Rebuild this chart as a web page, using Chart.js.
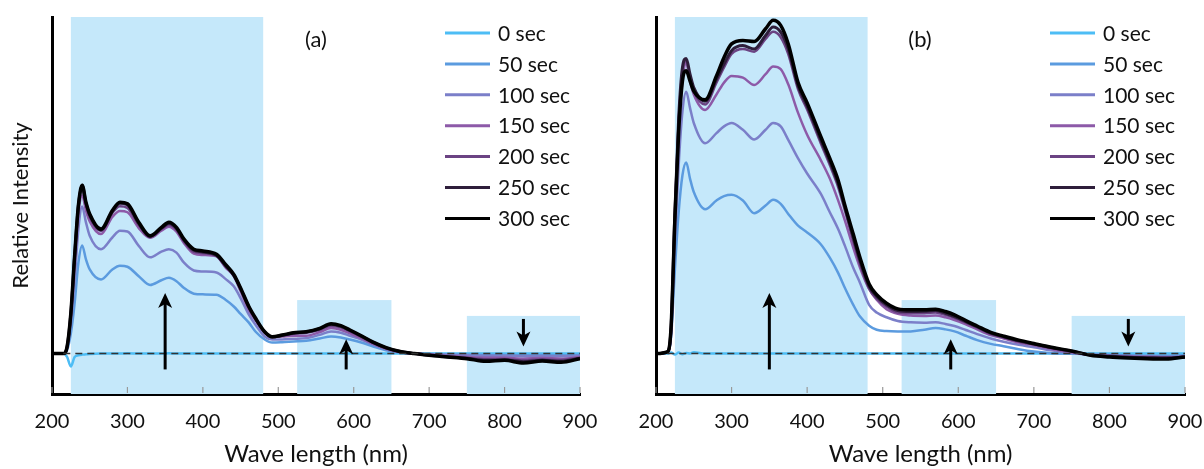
<!DOCTYPE html>
<html>
<head>
<meta charset="utf-8">
<script src="https://cdn.jsdelivr.net/npm/chart.js@4.4.1/dist/chart.umd.min.js"></script>
<style>
  body { margin: 0; background: #fff; }
  .panel { position: absolute; top: 0; width: 602px; height: 469px; }
</style>
</head>
<body>
<div class="panel" style="left:0"><canvas id="chartA" width="602" height="469"></canvas></div>
<div class="panel" style="left:602px"><canvas id="chartB" width="602" height="469"></canvas></div>
<script>
// wavelength grid (nm)
const wavelength = [200,215,220,225,230,235,240,245,250,265,280,290,300,315,330,345,355,365,375,388,
  400,418,430,441,450,461,470,482,492,505,520,537,555,570,583,595,610,625,643,660,
  680,700,725,750,775,800,825,850,875,900];

const seriesNames = ["0 sec", "50 sec", "100 sec", "150 sec", "200 sec", "250 sec", "300 sec"];
const xTicks = [200, 300, 400, 500, 600, 700, 800, 900];

// panel (a)
const a0   = [0,0,-1,-3.8,-1,-0.5,-0.3,-0.2,-0.1,0,0,0,0.1,0,0,0,0.1,0,0,0,0,0,0,0,0,0,0,0,0,0,0,0,0,0,0,0,0,0,0,0,0,0,0,0,0,0,0,0,0,0];
const a50  = [0,0,1,6,15,27,32.1,28,25,22,25,26.1,25.8,23,20.4,21.8,22.5,21.5,19.5,17.8,17.6,17.5,16,14,11.8,9.2,6.5,4.2,3.3,3.4,3.6,3.8,4.5,5.1,4.8,4.2,3.3,2.2,1,0.4,0,-0.1,-0.2,-0.3,-0.4,-0.4,-0.5,-0.4,-0.5,-0.4];
const a100 = [0,0,1.5,9,22,37,43.7,39,35,31,34.5,36.5,36.3,32,28.6,30.3,31,30,27,24.7,24.4,24.1,22.2,20,16.5,11.6,8.5,5.1,4.2,4.2,4.4,4.6,5.6,6.6,6.2,5.3,4.2,2.8,1.3,0.5,0,-0.2,-0.4,-0.5,-0.6,-0.6,-0.8,-0.7,-0.8,-0.6];
const a150 = [0,0,2,11,27,41.5,47,42.5,39.3,35.5,40.6,42.4,42,37.3,34.4,36.5,37.7,36.2,32.8,29.7,29.3,28.9,25.6,23,18.5,13,9.8,6.2,5,5.1,5.3,5.3,6.4,7.6,7.1,6,4.6,3,1.5,0.5,0,-0.3,-0.7,-1,-1.2,-1.2,-1.5,-1.3,-1.5,-1];
const a200 = [0,0,2,11.5,28.5,43.5,49,44,40.5,36.4,41.8,43.8,43.3,38.2,34.6,37,38.2,36.8,33.3,30.2,29.8,29,25.9,23.1,19.2,13.6,10.2,6.3,4.9,5.3,5.9,6.2,7.1,8.3,7.8,6.6,5,3.3,1.6,0.6,0,-0.4,-0.9,-1.3,-1.7,-1.6,-2,-1.7,-1.9,-1.2];
const a250 = [0,0,2,12,29,44,50,44.7,41.2,36.8,42.2,44.7,44.2,38.7,34.8,37.2,38.7,37.2,33.7,30.7,30.2,29.2,26.2,23.3,19.3,13.8,10.3,6.4,4.9,5.4,6.1,6.4,7.4,8.7,8.1,6.9,5.2,3.4,1.7,0.7,0,-0.5,-1,-1.4,-2,-1.9,-2.4,-2,-2.3,-1.4];
const a300 = [0,0,2,12,29,44,50,45,41.5,37,42.5,45,44.5,39,35,37.5,39,37.5,34,31,30.5,29.5,26.5,23.5,19.5,14,10.5,6.5,5,5.5,6.2,6.5,7.5,8.9,8.3,7,5.3,3.5,1.8,0.7,0,-0.5,-1,-1.5,-2.3,-2,-2.8,-2.2,-2.6,-1.5];

// panel (b)
const b0   = [0,0,0.3,-0.3,0.3,-0.2,0.2,0,0.4,0,0,0,0,0,0,0,0,0,0,0,0,0,0,0,0,0,0,0,0,0,0,0,0,0,0,0,0,0,0,0,0,0,0,0,0,0,0,0,0,0];
const b50  = [0,0.3,5,25,42,53,56.8,52,48,42.9,45.5,46.8,47.2,45.5,41.7,44,45.7,44.5,41.5,38,36,32.5,28.5,24,19.5,14.5,11,8.3,7.1,6.7,6.6,6.6,7.1,7.6,7.2,6.6,5.3,4,2.9,2.2,1.3,0.6,0.1,0,-0.2,-0.4,-0.5,-0.6,-0.6,-0.5];
const b100 = [0,0.4,6,33,56,72,77.8,73,68.5,62.5,65.5,67.5,68.5,66.5,63.6,66.5,68.5,67.5,63.5,58,53.5,47.5,42,37,32,25.5,21,14.5,12.2,10.8,9.7,9.3,9.2,9.3,8.8,8.2,7,5.8,4.5,3.5,2.6,1.9,0.9,0.2,-0.3,-0.5,-0.7,-0.8,-0.9,-0.8];
const b150 = [0,0.5,7,39,66,81,86.3,81,77,72.4,77,80.5,82.5,82,79.8,83,85.3,84.5,80,71.5,65,57.5,52,45.5,39.5,31.5,25.5,19.2,16,13.2,11.8,11.3,11.2,11.3,10.8,10,8.7,7.2,5.5,4.5,3.3,2.5,1.3,0.4,-0.4,-0.7,-0.9,-1,-1.1,-0.9];
const b200 = [0,0.5,7.5,41,69,84,87,82,78,74,80.5,85,89,90.5,89.7,93.5,95.6,94,89,78.5,72.5,62.5,56,49.5,42.5,33.5,26.5,19.3,16.3,14,12.2,12,12,12.2,11.5,10.6,9.2,7.7,5.8,4.8,3.6,2.7,1.6,0.6,-0.4,-0.8,-1,-1.1,-1.2,-1];
const b250 = [0,0.5,8,42,70,85,87.7,83,79,75,81.5,86,90,91.5,90.5,94.5,97,95.5,90.5,79.5,73.5,63.5,57,50.5,43.5,34.5,27.5,20,17,14.5,12.8,12.5,12.6,12.8,12,11,9.5,8,6.1,5,3.8,2.9,1.7,0.7,-0.4,-0.8,-1.1,-1.2,-1.3,-1];
const b300 = [0,0.5,8,40,66,81,84,81,78,75.4,82.5,88,92,93,92.7,96.5,99,97.5,92,80.5,74.5,64.5,58,51.5,44,35.5,28.5,20.7,17.5,15,13.3,13,13,13.2,12.5,11.5,9.8,8.2,6.3,5.2,4,3,1.8,0.8,-0.5,-1,-1.3,-1.5,-1.6,-1];

// highlighted bands [from nm, to nm, top value] and arrows [nm, from, to]
const bands = [[225, 480, 100], [525, 650, 15.9], [750, 900, 11.2]];
const arrows = [[350, -4.7, 18], [590, -4.7, 4.3], [825, 10.3, 2.1]];

const lineColors = ["#4DBDF5", "#5B9BDF", "#7B7FC9", "#8D5AA8", "#6B4383", "#2F1E3B", "#000000"];
const lineWidths = [2.5, 2.5, 2.5, 2.5, 2.5, 3, 3.5];

Chart.defaults.font.family = "Lato, 'Open Sans', sans-serif";
Chart.defaults.color = "#111";

const decor = {
  id: "decor",
  beforeDatasetsDraw(chart) {
    const {ctx, scales: {x, y}} = chart;
    ctx.save();
    ctx.fillStyle = "#C5E8FA";
    bands.forEach(b => {
      const x1 = x.getPixelForValue(b[0]), x2 = x.getPixelForValue(b[1]);
      const yt = y.getPixelForValue(b[2]), yb = y.getPixelForValue(y.min);
      ctx.fillRect(x1, yt, x2 - x1, yb - yt);
    });
    ctx.restore();
  },
  afterDatasetsDraw(chart, args, opts) {
    const {ctx, chartArea: area, scales: {x, y}} = chart;
    ctx.save();
    // dashed baseline
    ctx.strokeStyle = "#333";
    ctx.lineWidth = 1.5;
    ctx.setLineDash([7, 5]);
    ctx.beginPath();
    ctx.moveTo(x.getPixelForValue(215), y.getPixelForValue(0));
    ctx.lineTo(x.getPixelForValue(900), y.getPixelForValue(0));
    ctx.stroke();
    ctx.setLineDash([]);

    // arrows
    ctx.strokeStyle = "#000";
    ctx.fillStyle = "#000";
    ctx.lineWidth = 3;
    arrows.forEach(a => {
      const px = x.getPixelForValue(a[0]);
      const p0 = y.getPixelForValue(a[1]), p1 = y.getPixelForValue(a[2]);
      const dir = p1 < p0 ? 1 : -1;
      ctx.beginPath();
      ctx.moveTo(px, p0);
      ctx.lineTo(px, p1 + dir * 10);
      ctx.stroke();
      ctx.beginPath();
      ctx.moveTo(px, p1);
      ctx.lineTo(px - 7, p1 + dir * 15);
      ctx.lineTo(px, p1 + dir * 11);
      ctx.lineTo(px + 7, p1 + dir * 15);
      ctx.closePath();
      ctx.fill();
    });

    // small tick marks standing on the x axis
    ctx.strokeStyle = "#999";
    ctx.lineWidth = 1.2;
    xTicks.forEach(v => {
      const px = x.getPixelForValue(v);
      ctx.beginPath();
      ctx.moveTo(px, area.bottom - 1);
      ctx.lineTo(px, area.bottom - 7);
      ctx.stroke();
    });

    // panel tag
    ctx.fillStyle = "#111";
    ctx.font = "22px Lato";
    ctx.textAlign = "center";
    ctx.textBaseline = "middle";
    ctx.fillText(opts.tag, area.left + 264, area.top + 23);

    // legend
    ctx.textAlign = "left";
    ctx.font = "21px Lato";
    chart.data.datasets.forEach((ds, i) => {
      const ly = area.top + 16 + i * 30.9;
      ctx.strokeStyle = ds.borderColor;
      ctx.lineWidth = 3;
      ctx.beginPath();
      ctx.moveTo(area.right - 135, ly);
      ctx.lineTo(area.right - 90, ly);
      ctx.stroke();
      ctx.fillText(ds.label, area.right - 82, ly + 1);
    });
    ctx.restore();
  }
};

function makePanel(id, series, tag, leftWidth, rightPad, yTitle) {
  const datasets = series.map((vals, i) => ({
    label: seriesNames[i],
    data: wavelength.map((w, k) => ({x: w, y: vals[k]})),
    borderColor: lineColors[i],
    borderWidth: lineWidths[i],
    pointRadius: 0,
    cubicInterpolationMode: "monotone",
    borderJoinStyle: "round",
    order: series.length - i
  }));
  return new Chart(document.getElementById(id), {
    type: "line",
    data: {datasets},
    plugins: [decor],
    options: {
      responsive: false,
      animation: false,
      layout: {padding: {top: 17, right: rightPad, bottom: 0, left: 0}},
      plugins: {
        legend: {display: false},
        tooltip: {enabled: false},
        decor: {tag}
      },
      scales: {
        x: {
          type: "linear",
          min: 200, max: 900,
          afterFit: s => { s.height = 75; s.paddingLeft = 0; s.paddingRight = 0; },
          afterBuildTicks: s => { s.ticks = xTicks.map(v => ({value: v})); },
          grid: {display: false},
          border: {display: true, color: "#000", width: 3},
          ticks: {font: {size: 20}, color: "#111", padding: 8, maxRotation: 0},
          title: {display: true, text: "Wave length (nm)", font: {size: 24}, color: "#111", padding: {top: 0, bottom: 0}}
        },
        y: {
          min: -12, max: 100,
          afterFit: s => { s.width = leftWidth; s.paddingTop = 0; s.paddingBottom = 0; },
          grid: {display: false},
          border: {display: true, color: "#000", width: 3},
          ticks: {display: false},
          title: {display: yTitle, text: "Relative Intensity", font: {size: 22}, color: "#111", padding: {top: 8, bottom: 0}}
        }
      }
    }
  });
}

makePanel("chartA", [a0, a50, a100, a150, a200, a250, a300], "(a)", 52, 22, true);
makePanel("chartB", [b0, b50, b100, b150, b200, b250, b300], "(b)", 54, 19, false);
</script>
</body>
</html>
